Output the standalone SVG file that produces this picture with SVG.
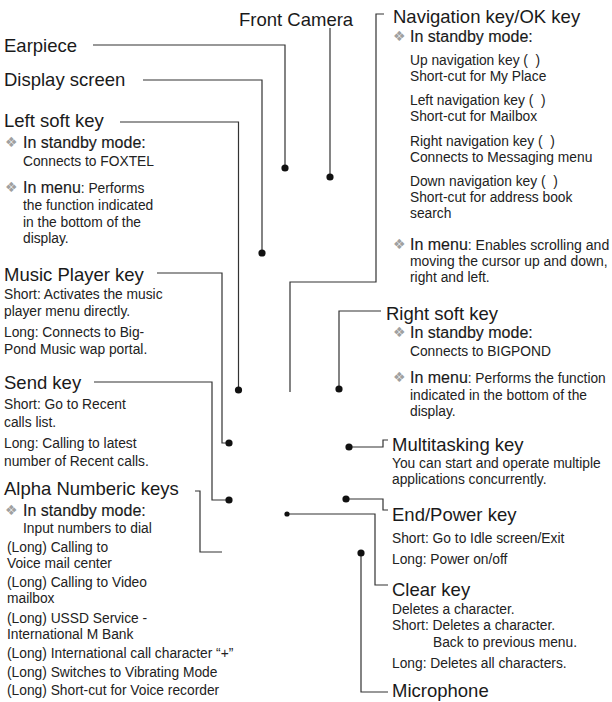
<svg xmlns="http://www.w3.org/2000/svg" width="612" height="702" viewBox="0 0 612 702">
<style>
.h{font-family:"Liberation Sans",Arial,sans-serif;font-size:18.5px;fill:#1a1a1a}
.s{font-family:"Liberation Sans",Arial,sans-serif;font-size:16px;fill:#1a1a1a;stroke:#1a1a1a;stroke-width:.15px}
.b{font-family:"Liberation Sans",Arial,sans-serif;font-size:15.5px;fill:#222}
.d{font-family:"DejaVu Sans",sans-serif;font-size:14px;fill:#a0a0a0}
.ln{fill:none;stroke:#333;stroke-width:1.2}
.dot{fill:#111}
</style>
<rect width="612" height="702" fill="#fff"/>

<g id="connectors">
  <path class="ln" d="M93,45 H285 V168"/>
  <path class="ln" d="M143,80 H262 V253"/>
  <path class="ln" d="M330,28 V177"/>
  <path class="ln" d="M120,122 H238.5 V390"/>
  <path class="ln" d="M157,273 H222 V443 H229"/>
  <path class="ln" d="M94,382 H212 V500 H229"/>
  <path class="ln" d="M195,491 H200 V552 H222"/>
  <path class="ln" d="M384,14 H376 V282 H290 V392"/>
  <path class="ln" d="M381,311 H339 V389"/>
  <path class="ln" d="M349,447 H383 V440 H388"/>
  <path class="ln" d="M346,499 H383 V510 H388"/>
  <path class="ln" d="M287,514 H375 V585 H388"/>
  <path class="ln" d="M361,553 V692 H388"/>
  <circle class="dot" cx="285" cy="168" r="3.6"/>
  <circle class="dot" cx="262" cy="253" r="3.6"/>
  <circle class="dot" cx="330" cy="177" r="3.6"/>
  <circle class="dot" cx="238.5" cy="390" r="3.6"/>
  <circle class="dot" cx="229" cy="443" r="3.6"/>
  <circle class="dot" cx="229" cy="500" r="3.6"/>
  <circle class="dot" cx="339" cy="389" r="3.6"/>
  <circle class="dot" cx="349" cy="447" r="3.6"/>
  <circle class="dot" cx="346" cy="499" r="3.6"/>
  <circle class="dot" cx="287" cy="514" r="2.6"/>
  <circle class="dot" cx="361" cy="553" r="3.6"/>
</g>

<g id="earpiece"><text class="h" x="4" y="52">Earpiece</text></g>
<g id="display-screen"><text class="h" x="4" y="86">Display screen</text></g>
<g id="front-camera"><text class="h" x="239" y="26">Front Camera</text></g>

<g id="left-soft-key">
  <text class="h" x="4" y="127">Left soft key</text>
  <text class="d" x="5" y="147">❖</text>
  <text class="s" x="23" y="148">In standby mode:</text>
  <text class="d" x="5" y="192">❖</text>
  <text class="s" x="23" y="193">In menu</text>
  <g class="b" transform="translate(23 0) scale(.89 1)">
    <text x="0" y="166">Connects to FOXTEL</text>
    <text x="64.9" y="193">: Performs</text>
    <text x="0" y="210">the function indicated</text>
    <text x="0" y="227">in the bottom of the</text>
    <text x="0" y="243">display.</text>
  </g>
</g>

<g id="music-player-key">
  <text class="h" x="4" y="281">Music Player key</text>
  <g class="b" transform="translate(4 0) scale(.89 1)">
    <text x="0" y="299">Short: Activates the music</text>
    <text x="0" y="316">player menu directly.</text>
    <text x="0" y="337">Long: Connects to Big-</text>
    <text x="0" y="354">Pond Music wap portal.</text>
  </g>
</g>

<g id="send-key">
  <text class="h" x="4" y="389">Send key</text>
  <g class="b" transform="translate(4 0) scale(.89 1)">
    <text x="0" y="409">Short: Go to Recent</text>
    <text x="0" y="427">calls list.</text>
    <text x="0" y="448">Long: Calling to latest</text>
    <text x="0" y="466">number of Recent calls.</text>
  </g>
</g>

<g id="alpha-numberic-keys">
  <text class="h" x="4" y="495">Alpha Numberic keys</text>
  <text class="d" x="5" y="515">❖</text>
  <text class="s" x="23" y="516">In standby mode:</text>
  <g class="b" transform="translate(23 0) scale(.89 1)">
    <text x="0" y="533">Input numbers to dial</text>
  </g>
  <g class="b" transform="translate(7 0) scale(.89 1)">
    <text x="0" y="552">(Long) Calling to</text>
    <text x="0" y="568">Voice mail center</text>
    <text x="0" y="587">(Long) Calling to Video</text>
    <text x="0" y="603">mailbox</text>
    <text x="0" y="623">(Long) USSD Service -</text>
    <text x="0" y="639">International M Bank</text>
    <text x="0" y="658">(Long) International call character “+”</text>
    <text x="0" y="677">(Long) Switches to Vibrating Mode</text>
    <text x="0" y="695">(Long) Short-cut for Voice recorder</text>
  </g>
</g>

<g id="navigation-key">
  <text class="h" x="393" y="23">Navigation key/OK key</text>
  <text class="d" x="393" y="41">❖</text>
  <text class="s" x="410" y="42">In standby mode:</text>
  <text class="d" x="393" y="249">❖</text>
  <text class="s" x="410" y="250">In menu</text>
  <g class="b" transform="translate(410 0) scale(.89 1)">
    <text x="0" y="65">Up navigation key (&#160;&#160;)</text>
    <text x="0" y="81">Short-cut for My Place</text>
    <text x="0" y="105">Left navigation key (&#160;&#160;)</text>
    <text x="0" y="121">Short-cut for Mailbox</text>
    <text x="0" y="146">Right navigation key (&#160;&#160;)</text>
    <text x="0" y="162">Connects to Messaging menu</text>
    <text x="0" y="186">Down navigation key (&#160;&#160;)</text>
    <text x="0" y="202">Short-cut for address book</text>
    <text x="0" y="218">search</text>
    <text x="64.9" y="250" textLength="159" lengthAdjust="spacingAndGlyphs">: Enables scrolling and</text>
    <text x="0" y="266" textLength="222" lengthAdjust="spacingAndGlyphs">moving the cursor up and down,</text>
    <text x="0" y="282">right and left.</text>
  </g>
</g>

<g id="right-soft-key">
  <text class="h" x="386" y="320">Right soft key</text>
  <text class="d" x="393" y="337">❖</text>
  <text class="s" x="410" y="338">In standby mode:</text>
  <text class="d" x="393" y="382">❖</text>
  <text class="s" x="410" y="383">In menu</text>
  <g class="b" transform="translate(410 0) scale(.89 1)">
    <text x="0" y="356">Connects to BIGPOND</text>
    <text x="64.9" y="383" textLength="155" lengthAdjust="spacingAndGlyphs">: Performs the function</text>
    <text x="0" y="400">indicated in the bottom of the</text>
    <text x="0" y="416">display.</text>
  </g>
</g>

<g id="multitasking-key">
  <text class="h" x="392" y="451">Multitasking key</text>
  <g class="b" transform="translate(392 0) scale(.89 1)">
    <text x="0" y="468">You can start and operate multiple</text>
    <text x="0" y="484">applications concurrently.</text>
  </g>
</g>

<g id="end-power-key">
  <text class="h" x="392" y="521">End/Power key</text>
  <g class="b" transform="translate(392 0) scale(.89 1)">
    <text x="0" y="543">Short: Go to Idle screen/Exit</text>
    <text x="0" y="564">Long: Power on/off</text>
  </g>
</g>

<g id="clear-key">
  <text class="h" x="392" y="596">Clear key</text>
  <g class="b" transform="translate(392 0) scale(.89 1)">
    <text x="0" y="614">Deletes a character.</text>
    <text x="0" y="630">Short: Deletes a character.</text>
    <text x="46.1" y="647">Back to previous menu.</text>
    <text x="0" y="668">Long: Deletes all characters.</text>
  </g>
</g>

<g id="microphone">
  <text class="h" x="392" y="697">Microphone</text>
</g>
</svg>
